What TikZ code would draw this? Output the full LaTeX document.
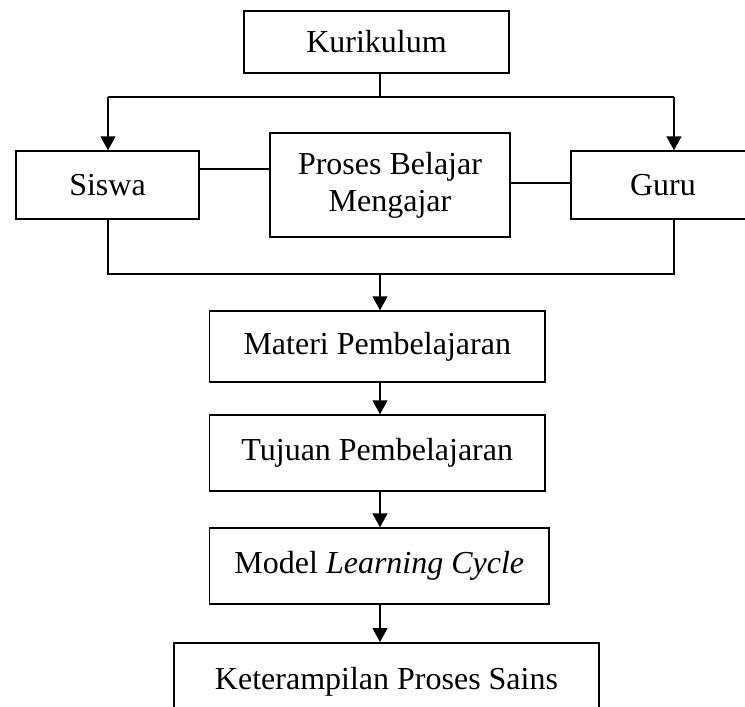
\documentclass[tikz,border=0pt]{standalone}
\usepackage{fontspec}
\setmainfont{Liberation Serif}
\usetikzlibrary{arrows.meta,calc}
\begin{document}
\begin{tikzpicture}[x=1pt,y=-1pt,
  box/.style={draw, line width=1.5pt, inner sep=0pt, align=center, font=\fontsize{32}{37}\selectfont},
  conn/.style={line width=1.5pt},
  arr/.style={line width=1.5pt, -{Triangle[length=14pt,width=15pt]}}]
\useasboundingbox (0,0) rectangle (745,707);
\clip (0,0) rectangle (745,707);
% nodes
\node[box, minimum width=265, minimum height=62] (kur) at (376.5,42) {Kurikulum};
\node[box, minimum width=183, minimum height=68] (siswa) at (107.5,185) {Siswa};
\node[box, minimum width=240, minimum height=104] (pbm) at (390,185) {Proses Belajar\\Mengajar};
\node[box, minimum width=184, minimum height=68] (guru) at (663,185) {Guru};
\node[box, minimum width=335.5, minimum height=71] (materi) at (377.25,346.5) {Materi Pembelajaran};
\node[box, minimum width=335.5, minimum height=76] (tujuan) at (377.25,453) {Tujuan Pembelajaran};
\node[box, minimum width=339.3, minimum height=76] (model) at (379.35,566) {Model \textit{Learning Cycle}};
\node[box, minimum width=425, minimum height=80, anchor=north] (kps) at (386.5,642) {\raisebox{9pt}{Keterampilan Proses Sains}};
% helper coordinates
\coordinate (top) at (380,97);
\coordinate (tl) at (108,97);
\coordinate (tr) at (674,97);
\coordinate (bl) at (108,274);
\coordinate (br) at (674,274);
\coordinate (bm) at (380,274);
% connectors
\draw[conn] (kur.south -| top) -- (top);
\draw[conn] (tl) -- (tr);
\draw[arr] (tl) -- (tl |- siswa.north);
\draw[arr] (tr) -- (tr |- guru.north);
\draw[conn] ([yshift=16pt]siswa.east) -- ([yshift=16pt]siswa.east -| pbm.west);
\draw[conn] ([yshift=2pt]pbm.east) -- ([yshift=2pt]pbm.east -| guru.west);
\draw[conn] (tl |- siswa.south) -- (bl) -- (br) -- (tr |- guru.south);
\draw[arr] (bm) -- (bm |- materi.north);
\draw[arr] (bm |- materi.south) -- (bm |- tujuan.north);
\draw[arr] (bm |- tujuan.south) -- (bm |- model.north);
\draw[arr] (bm |- model.south) -- (bm |- kps.north);
\end{tikzpicture}
\end{document}
